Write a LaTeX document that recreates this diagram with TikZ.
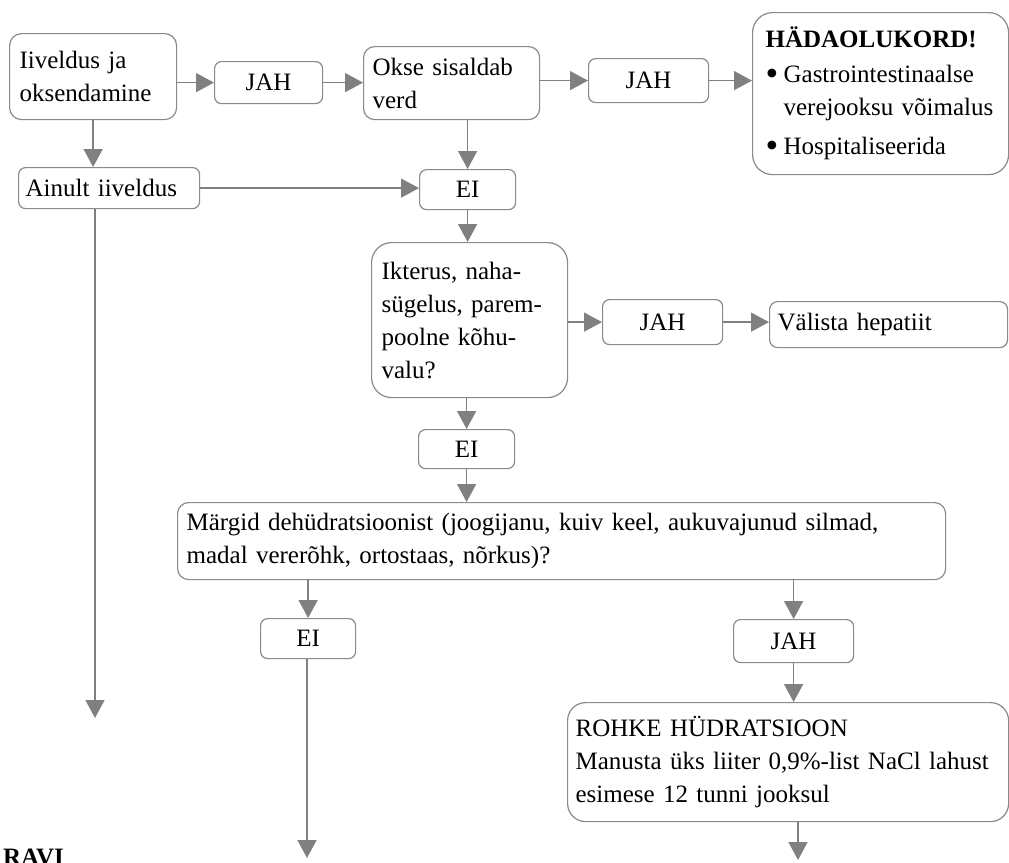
\documentclass[tikz,border=0pt]{standalone}
\usepackage{fontspec}
\usepackage{graphicx}
\setmainfont{Liberation Serif}
\usetikzlibrary{arrows.meta}
\definecolor{edgec}{HTML}{8A8A8A}
\definecolor{arrc}{HTML}{808080}
\newcommand{\mybul}{\makebox[18pt][l]{\raisebox{-3pt}{\scalebox{1.45}{•}}}}
\begin{document}
\begin{tikzpicture}[x=1pt,y=-1pt,
  font=\fontsize{25}{33}\selectfont,
  box/.style={draw=edgec, line width=1.2pt, anchor=north west, inner ysep=2pt, align=left},
  lab/.style={draw=edgec, line width=1.2pt, anchor=north west, rounded corners=7pt, inner sep=0pt, align=center},
  arr/.style={draw=arrc, line width=1.5pt, -{Triangle[length=18pt,width=19pt]}}]
\useasboundingbox (0,0) rectangle (1009,862);
\clip (0,0) rectangle (1009,862);

% boxes
\node[box, rounded corners=12pt, inner xsep=10pt, minimum width=167pt, minimum height=86pt, text width=147pt] (b1) at (9,33) {Iiveldus ja\\oksendamine};
\node[lab, minimum width=108pt, minimum height=42pt] (j1) at (214,61) {JAH};
\node[box, rounded corners=11pt, inner xsep=9pt, minimum width=176pt, minimum height=73pt, text width=158pt] (b2) at (363,46) {Okse sisaldab\\verd};
\node[lab, minimum width=120pt, minimum height=44pt] (j2) at (588,58) {JAH};
\node[box, rounded corners=20pt, inner xsep=13pt, minimum width=256pt, minimum height=162pt, text width=230pt] (hada) at (752,12)
  {\textbf{HÄDAOLUKORD!}\\[2pt]\mybul Gastrointestinaalse\\\hspace*{18pt}verejooksu võimalus\\[6pt]\mybul Hospitaliseerida};
\node[box, rounded corners=7pt, inner xsep=7pt, minimum width=181pt, minimum height=41pt, text width=167pt] (ain) at (18,167) {Ainult iiveldus};
\node[lab, minimum width=96pt, minimum height=40pt] (ei1) at (419,169) {EI};
\node[box, rounded corners=20pt, inner xsep=10pt, minimum width=196pt, minimum height=155pt, text width=176pt] (ikt) at (371,242)
  {Ikterus, naha-\\sügelus, parem-\\poolne kõhu-\\valu?};
\node[lab, minimum width=120pt, minimum height=45pt] (j3) at (602,299) {JAH};
\node[box, rounded corners=8pt, inner xsep=8pt, minimum width=238pt, minimum height=46pt, text width=222pt] (val) at (769,301) {Välista hepatiit};
\node[lab, minimum width=96pt, minimum height=39pt] (ei2) at (418,429) {EI};
\node[box, rounded corners=11pt, inner xsep=9pt, minimum width=768pt, minimum height=77pt, text width=750pt] (marg) at (177,502)
  {Märgid dehüdratsioonist (joogijanu, kuiv keel, aukuvajunud silmad,\\madal vererõhk, ortostaas, nõrkus)?};
\node[lab, minimum width=95pt, minimum height=40pt] (ei3) at (260,618) {EI};
\node[lab, minimum width=120pt, minimum height=43pt] (j4) at (733,619) {JAH};
\node[box, rounded corners=18pt, inner xsep=8pt, minimum width=441pt, minimum height=119pt, text width=425pt] (rohke) at (567,702)
  {ROHKE HÜDRATSIOON\\Manusta üks liiter 0,9\%-list NaCl lahust\\esimese 12 tunni jooksul};
\node[anchor=north west, inner sep=0pt, font=\bfseries\fontsize{25}{30}\selectfont] (ravi) at (3,849) {RAVI};

% free ends
\coordinate (e1) at (95,718);
\coordinate (e2) at (307,858);
\coordinate (e3) at (798,860);

% connectors
\draw[arr] (b1.east |- j1.west) -- (j1.west);
\draw[arr] (j1.east) -- (j1.east -| b2.west);
\draw[arr] (b2.east |- j2.west) -- (j2.west);
\draw[arr] (j2.east) -- (j2.east -| hada.west);
\draw[arr] (b1.south) -- (b1.south |- ain.north);
\draw[arr] (ain.east) -- (ain.east -| ei1.west);
\draw[arr] (ain.south -| e1) -- (e1);
\draw[arr] (b2.south -| ei1.north) -- (ei1.north);
\draw[arr] (ei1.south) -- (ei1.south |- ikt.north);
\draw[arr] (ikt.east |- j3.west) -- (j3.west);
\draw[arr] (j3.east) -- (j3.east -| val.west);
\draw[arr] (ei2.north |- ikt.south) -- (ei2.north);
\draw[arr] (ei2.south) -- (ei2.south |- marg.north);
\draw[arr] (ei3.north |- marg.south) -- (ei3.north);
\draw[arr] (j4.north |- marg.south) -- (j4.north);
\draw[arr] (ei3.south -| e2) -- (e2);
\draw[arr] (j4.south) -- (j4.south |- rohke.north);
\draw[arr] (rohke.south -| e3) -- (e3);
\end{tikzpicture}
\end{document}
